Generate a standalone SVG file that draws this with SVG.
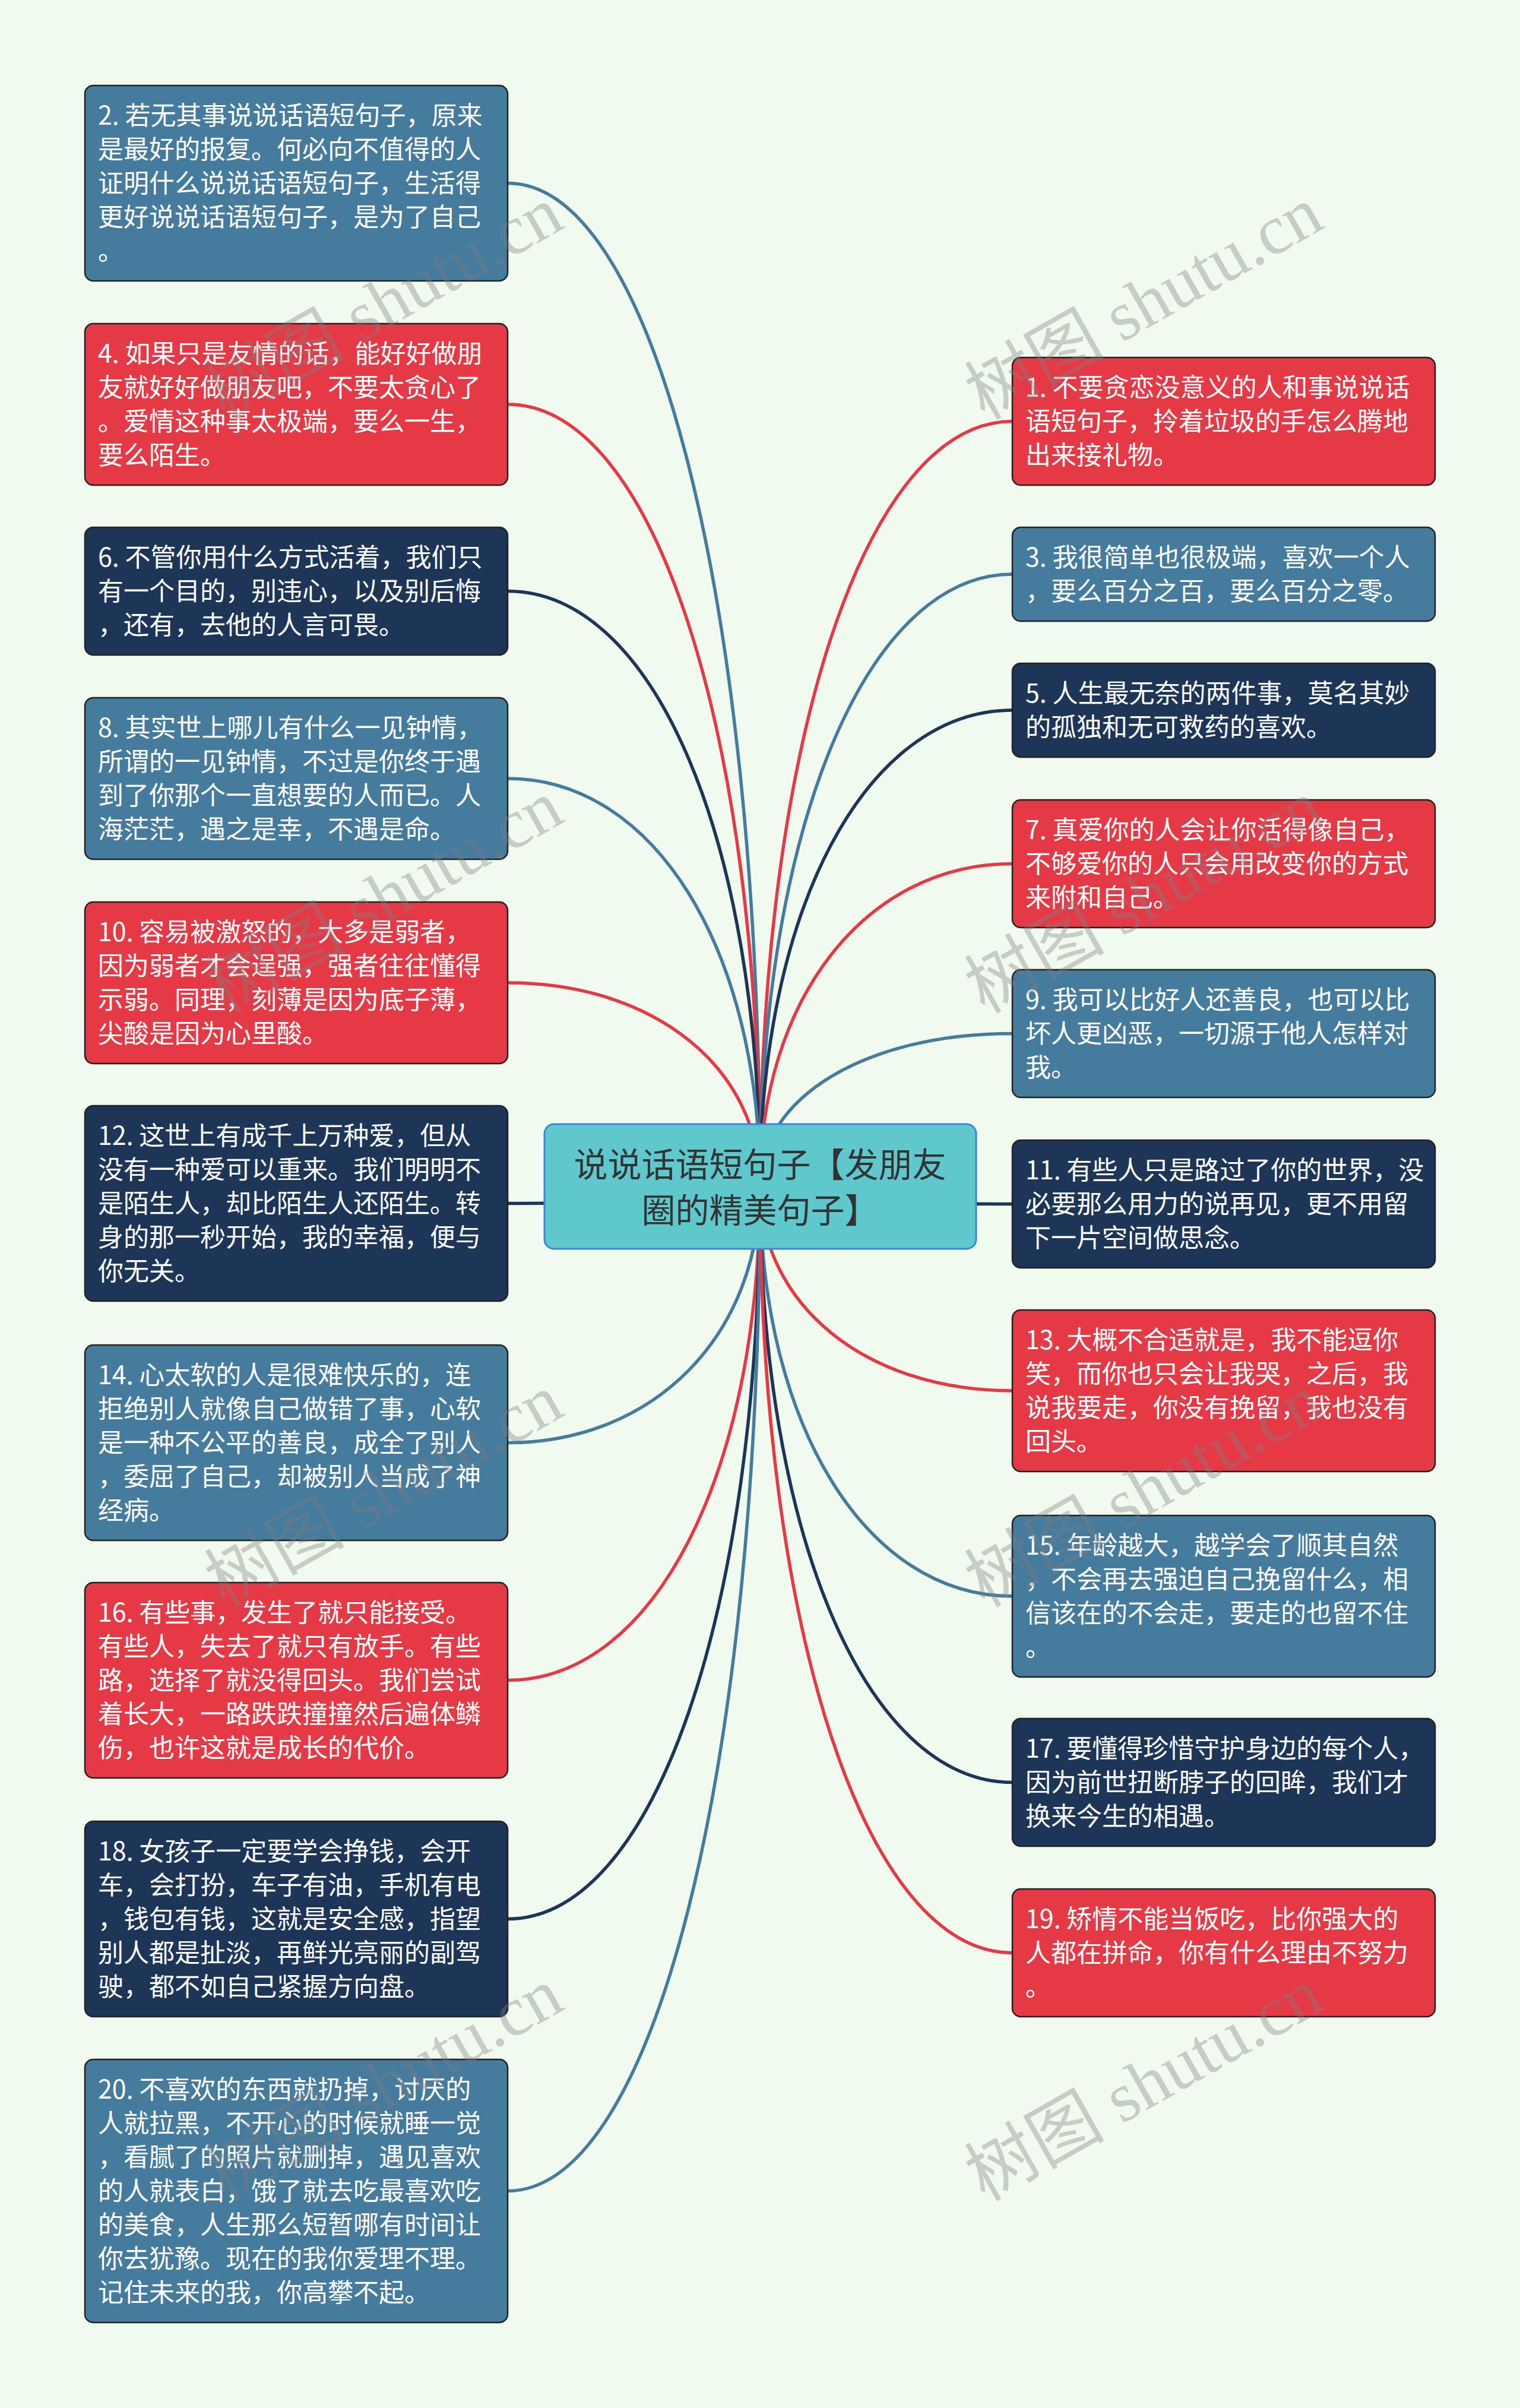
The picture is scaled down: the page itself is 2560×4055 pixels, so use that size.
<svg xmlns="http://www.w3.org/2000/svg" width="2560" height="4055" viewBox="0 0 2560 4055">
<style>
.bg{fill:#F1FAEE}
.box{stroke:#222;stroke-width:2.5}
.red{fill:#E63946}
.blue{fill:#457B9D}
.navy{fill:#1D3557}
.t{font-family:"Noto Sans CJK SC","Noto Sans",sans-serif;font-size:43px;fill:#fff}
.ct{font-family:"Noto Sans CJK SC","Noto Sans",sans-serif;font-size:57px;fill:#333;text-anchor:middle}
.c{fill:none;stroke-width:5.5}
.cr{stroke:#E63946}
.cb{stroke:#457B9D}
.cn{stroke:#1D3557}
.wm{font-family:"Liberation Serif","Noto Sans CJK SC",serif;font-size:118px;fill:#808080;fill-opacity:0.37}
</style>
<rect class="bg" x="0" y="0" width="2560" height="4055"/>
<g id="connectors">
<path class="c cb" d="M1280 1997 C1280 1017.7 1102 308.5 855 308.5"/>
<path class="c cr" d="M1280 1997 C1280 1233.7 1102 681 855 681"/>
<path class="c cn" d="M1280 1997 C1280 1416.1 1102 995.5 855 995.5"/>
<path class="c cb" d="M1280 1997 C1280 1599.1 1102 1311 855 1311"/>
<path class="c cr" d="M1280 1997 C1280 1798.6 1102 1655 855 1655"/>
<path class="c cn" d="M1280 1997 C1280 2014.1 1102 2026.5 855 2026.5"/>
<path class="c cb" d="M1280 1997 C1280 2247.9 1102 2429.5 855 2429.5"/>
<path class="c cr" d="M1280 1997 C1280 2480.1 1102 2829.5 855 2829.5"/>
<path class="c cn" d="M1280 1997 C1280 2713 1102 3231.5 855 3231.5"/>
<path class="c cb" d="M1280 1997 C1280 2978.9 1102 3689.5 855 3689.5"/>
<path class="c cr" d="M1280 1997 C1280 1250.2 1458 709.5 1705 709.5"/>
<path class="c cb" d="M1280 1997 C1280 1399.6 1458 967 1705 967"/>
<path class="c cn" d="M1280 1997 C1280 1532.4 1458 1196 1705 1196"/>
<path class="c cr" d="M1280 1997 C1280 1682.3 1458 1454.5 1705 1454.5"/>
<path class="c cb" d="M1280 1997 C1280 1848.2 1458 1740.5 1705 1740.5"/>
<path class="c cn" d="M1280 1997 C1280 2014.7 1458 2027.5 1705 2027.5"/>
<path class="c cr" d="M1280 1997 C1280 2197.1 1458 2342 1705 2342"/>
<path class="c cb" d="M1280 1997 C1280 2397.8 1458 2688 1705 2688"/>
<path class="c cn" d="M1280 1997 C1280 2579.6 1458 3001.5 1705 3001.5"/>
<path class="c cr" d="M1280 1997 C1280 2746.1 1458 3288.5 1705 3288.5"/>
</g>
<g id="center">
<rect x="917" y="1893" width="727" height="210" rx="16" fill="#5EC8CD" stroke="#3A86DC" stroke-width="3"/>
<text class="ct" x="1280" y="1982">说说话语短句子【发朋友</text>
<text class="ct" x="1280" y="2059">圈的精美句子】</text>
</g>
<g id="n2"><rect class="box blue" x="143" y="144" width="712" height="329" rx="14"/>
<text class="t" x="165" y="210">2. 若无其事说说话语短句子，原来</text><text class="t" x="165" y="267">是最好的报复。何必向不值得的人</text><text class="t" x="165" y="324">证明什么说说话语短句子，生活得</text><text class="t" x="165" y="381">更好说说话语短句子，是为了自己</text><text class="t" x="165" y="438">。</text></g>
<g id="n4"><rect class="box red" x="143" y="545" width="712" height="272" rx="14"/>
<text class="t" x="165" y="611">4. 如果只是友情的话，能好好做朋</text><text class="t" x="165" y="668">友就好好做朋友吧，不要太贪心了</text><text class="t" x="165" y="725">。爱情这种事太极端，要么一生，</text><text class="t" x="165" y="782">要么陌生。</text></g>
<g id="n6"><rect class="box navy" x="143" y="888" width="712" height="215" rx="14"/>
<text class="t" x="165" y="954">6. 不管你用什么方式活着，我们只</text><text class="t" x="165" y="1011">有一个目的，别违心，以及别后悔</text><text class="t" x="165" y="1068">，还有，去他的人言可畏。</text></g>
<g id="n8"><rect class="box blue" x="143" y="1175" width="712" height="272" rx="14"/>
<text class="t" x="165" y="1241">8. 其实世上哪儿有什么一见钟情，</text><text class="t" x="165" y="1298">所谓的一见钟情，不过是你终于遇</text><text class="t" x="165" y="1355">到了你那个一直想要的人而已。人</text><text class="t" x="165" y="1412">海茫茫，遇之是幸，不遇是命。</text></g>
<g id="n10"><rect class="box red" x="143" y="1519" width="712" height="272" rx="14"/>
<text class="t" x="165" y="1585">10. 容易被激怒的，大多是弱者，</text><text class="t" x="165" y="1642">因为弱者才会逞强，强者往往懂得</text><text class="t" x="165" y="1699">示弱。同理，刻薄是因为底子薄，</text><text class="t" x="165" y="1756">尖酸是因为心里酸。</text></g>
<g id="n12"><rect class="box navy" x="143" y="1862" width="712" height="329" rx="14"/>
<text class="t" x="165" y="1928">12. 这世上有成千上万种爱，但从</text><text class="t" x="165" y="1985">没有一种爱可以重来。我们明明不</text><text class="t" x="165" y="2042">是陌生人，却比陌生人还陌生。转</text><text class="t" x="165" y="2099">身的那一秒开始，我的幸福，便与</text><text class="t" x="165" y="2156">你无关。</text></g>
<g id="n14"><rect class="box blue" x="143" y="2265" width="712" height="329" rx="14"/>
<text class="t" x="165" y="2331">14. 心太软的人是很难快乐的，连</text><text class="t" x="165" y="2388">拒绝别人就像自己做错了事，心软</text><text class="t" x="165" y="2445">是一种不公平的善良，成全了别人</text><text class="t" x="165" y="2502">，委屈了自己，却被别人当成了神</text><text class="t" x="165" y="2559">经病。</text></g>
<g id="n16"><rect class="box red" x="143" y="2665" width="712" height="329" rx="14"/>
<text class="t" x="165" y="2731">16. 有些事，发生了就只能接受。</text><text class="t" x="165" y="2788">有些人，失去了就只有放手。有些</text><text class="t" x="165" y="2845">路，选择了就没得回头。我们尝试</text><text class="t" x="165" y="2902">着长大，一路跌跌撞撞然后遍体鳞</text><text class="t" x="165" y="2959">伤，也许这就是成长的代价。</text></g>
<g id="n18"><rect class="box navy" x="143" y="3067" width="712" height="329" rx="14"/>
<text class="t" x="165" y="3133">18. 女孩子一定要学会挣钱，会开</text><text class="t" x="165" y="3190">车，会打扮，车子有油，手机有电</text><text class="t" x="165" y="3247">，钱包有钱，这就是安全感，指望</text><text class="t" x="165" y="3304">别人都是扯淡，再鲜光亮丽的副驾</text><text class="t" x="165" y="3361">驶，都不如自己紧握方向盘。</text></g>
<g id="n20"><rect class="box blue" x="143" y="3468" width="712" height="443" rx="14"/>
<text class="t" x="165" y="3534">20. 不喜欢的东西就扔掉，讨厌的</text><text class="t" x="165" y="3591">人就拉黑，不开心的时候就睡一觉</text><text class="t" x="165" y="3648">，看腻了的照片就删掉，遇见喜欢</text><text class="t" x="165" y="3705">的人就表白，饿了就去吃最喜欢吃</text><text class="t" x="165" y="3762">的美食，人生那么短暂哪有时间让</text><text class="t" x="165" y="3819">你去犹豫。现在的我你爱理不理。</text><text class="t" x="165" y="3876">记住未来的我，你高攀不起。</text></g>
<g id="n1"><rect class="box red" x="1705" y="602" width="712" height="215" rx="14"/>
<text class="t" x="1727" y="668">1. 不要贪恋没意义的人和事说说话</text><text class="t" x="1727" y="725">语短句子，拎着垃圾的手怎么腾地</text><text class="t" x="1727" y="782">出来接礼物。</text></g>
<g id="n3"><rect class="box blue" x="1705" y="888" width="712" height="158" rx="14"/>
<text class="t" x="1727" y="954">3. 我很简单也很极端，喜欢一个人</text><text class="t" x="1727" y="1011">，要么百分之百，要么百分之零。</text></g>
<g id="n5"><rect class="box navy" x="1705" y="1117" width="712" height="158" rx="14"/>
<text class="t" x="1727" y="1183">5. 人生最无奈的两件事，莫名其妙</text><text class="t" x="1727" y="1240">的孤独和无可救药的喜欢。</text></g>
<g id="n7"><rect class="box red" x="1705" y="1347" width="712" height="215" rx="14"/>
<text class="t" x="1727" y="1413">7. 真爱你的人会让你活得像自己，</text><text class="t" x="1727" y="1470">不够爱你的人只会用改变你的方式</text><text class="t" x="1727" y="1527">来附和自己。</text></g>
<g id="n9"><rect class="box blue" x="1705" y="1633" width="712" height="215" rx="14"/>
<text class="t" x="1727" y="1699">9. 我可以比好人还善良，也可以比</text><text class="t" x="1727" y="1756">坏人更凶恶，一切源于他人怎样对</text><text class="t" x="1727" y="1813">我。</text></g>
<g id="n11"><rect class="box navy" x="1705" y="1920" width="712" height="215" rx="14"/>
<text class="t" x="1727" y="1986">11. 有些人只是路过了你的世界，没</text><text class="t" x="1727" y="2043">必要那么用力的说再见，更不用留</text><text class="t" x="1727" y="2100">下一片空间做思念。</text></g>
<g id="n13"><rect class="box red" x="1705" y="2206" width="712" height="272" rx="14"/>
<text class="t" x="1727" y="2272">13. 大概不合适就是，我不能逗你</text><text class="t" x="1727" y="2329">笑，而你也只会让我哭，之后，我</text><text class="t" x="1727" y="2386">说我要走，你没有挽留，我也没有</text><text class="t" x="1727" y="2443">回头。</text></g>
<g id="n15"><rect class="box blue" x="1705" y="2552" width="712" height="272" rx="14"/>
<text class="t" x="1727" y="2618">15. 年龄越大，越学会了顺其自然</text><text class="t" x="1727" y="2675">，不会再去强迫自己挽留什么，相</text><text class="t" x="1727" y="2732">信该在的不会走，要走的也留不住</text><text class="t" x="1727" y="2789">。</text></g>
<g id="n17"><rect class="box navy" x="1705" y="2894" width="712" height="215" rx="14"/>
<text class="t" x="1727" y="2960">17. 要懂得珍惜守护身边的每个人，</text><text class="t" x="1727" y="3017">因为前世扭断脖子的回眸，我们才</text><text class="t" x="1727" y="3074">换来今生的相遇。</text></g>
<g id="n19"><rect class="box red" x="1705" y="3181" width="712" height="215" rx="14"/>
<text class="t" x="1727" y="3247">19. 矫情不能当饭吃，比你强大的</text><text class="t" x="1727" y="3304">人都在拼命，你有什么理由不努力</text><text class="t" x="1727" y="3361">。</text></g>
<g id="watermarks">
<text class="wm" transform="translate(378,708) rotate(-29.5)">树图 shutu.cn</text>
<text class="wm" transform="translate(1658,708) rotate(-29.5)">树图 shutu.cn</text>
<text class="wm" transform="translate(378,1708) rotate(-29.5)">树图 shutu.cn</text>
<text class="wm" transform="translate(1658,1708) rotate(-29.5)">树图 shutu.cn</text>
<text class="wm" transform="translate(378,2708) rotate(-29.5)">树图 shutu.cn</text>
<text class="wm" transform="translate(1658,2708) rotate(-29.5)">树图 shutu.cn</text>
<text class="wm" transform="translate(378,3708) rotate(-29.5)">树图 shutu.cn</text>
<text class="wm" transform="translate(1658,3708) rotate(-29.5)">树图 shutu.cn</text>
</g>
</svg>
